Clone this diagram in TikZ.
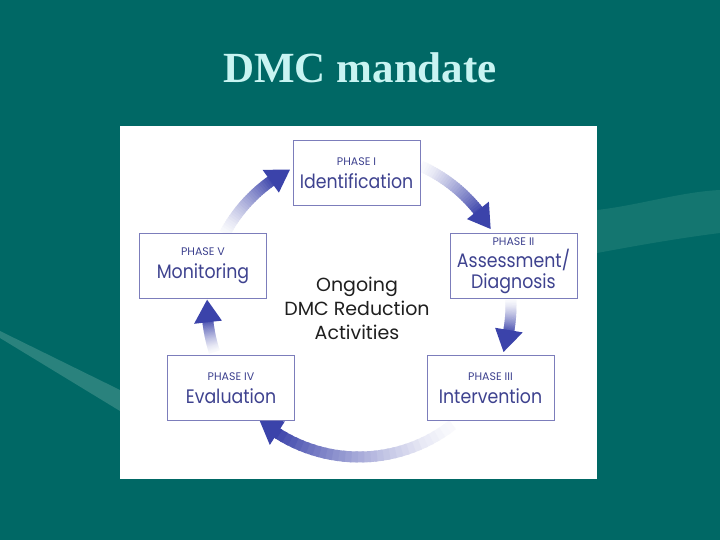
\documentclass[tikz,border=0pt]{standalone}
\usepackage{fontspec}
\usepackage{xcolor}
\usepackage{tikz}
\usetikzlibrary{arrows.meta,positioning}
\setmainfont{Liberation Serif}
\newfontfamily\geofont{Poppins}
\newfontfamily\narrowgeo[FakeStretch=0.89]{Poppins}
\newcommand{\phasetag}[1]{{\geofont\fontsize{11}{12}\selectfont #1}}
\definecolor{slidebg}{HTML}{006865}
\definecolor{wavelight}{HTML}{2A827D}
\definecolor{waveband}{HTML}{147670}
\definecolor{titlecyan}{HTML}{C8F4F2}
\definecolor{phaseink}{HTML}{3E428F}
\definecolor{phaseline}{HTML}{7C7DBB}
\definecolor{cycleblue}{HTML}{3B43AA}

\begin{document}
\begin{tikzpicture}[x=1pt,y=1pt,
    phasebox/.style={draw=phaseline,line width=1pt,fill=white,minimum width=127pt,minimum height=65pt,inner sep=0pt,align=center,text=phaseink,font=\narrowgeo\fontsize{19.5}{21}\selectfont}]
        \useasboundingbox (0,0) rectangle (720,-540);
        \fill[slidebg] (0,0) rectangle (720,-540);
        \fill[waveband] (597,-210) .. controls (640,-205) and (680,-192) .. (720,-190) -- (720,-233) .. controls (680,-238) and (640,-245) .. (597,-253) -- cycle;
        \fill[wavelight] (0,-331) -- (120,-390) -- (120,-411) -- (0,-338) -- cycle;
        \node[font=\bfseries\fontsize{43}{48}\selectfont,text=titlecyan,anchor=base] (title) at (360,-83) {DMC mandate};
        \fill[white] (120,-126) rectangle (597,-479);
        \coordinate (hub) at (359,-305);
        \foreach \from/\to in {152/117,66/30,2/-18,-52/-131,198/178}{
          \pgfmathsetmacro{\shaftend}{\to+7}
          \foreach \k in {0,...,29}{
            \pgfmathsetmacro{\aa}{\from+(\shaftend-\from)*\k/30}
            \pgfmathsetmacro{\ab}{\from+(\shaftend-\from)*(\k+1.4)/30}
            \pgfmathtruncatemacro{\tint}{3+97*(\k/29)^1.3}
            \draw[cycleblue!\tint!white,line width=11pt] ([shift={(\aa:152pt)}]hub) arc[start angle=\aa,end angle=\ab,radius=152pt];
          }
          \fill[cycleblue] ([shift={(\to:152pt)}]hub) -- ([shift={(\to+8.5:138pt)}]hub) -- ([shift={(\to+8.5:166pt)}]hub) -- cycle;
        }
        \node[phasebox] (ident) at (356.5,-173.5) {\phasetag{PHASE I}\\[2pt]Identification};
        \node[phasebox] (assess) at (513.5,-265.5) {\phasetag{PHASE II}\\[1pt]Assessment/\\Diagnosis};
        \node[phasebox] (interv) at (490.5,-388) {\phasetag{PHASE III}\\[2pt]Intervention};
        \node[phasebox] (evalu) at (231,-388) {\phasetag{PHASE IV}\\[2pt]Evaluation};
        \node[phasebox] (monit) at (203,-266) {\phasetag{PHASE V}\\[2pt]Monitoring};
        \node[align=center,text=black!88,font=\geofont\fontsize{19}{24}\selectfont] (ongoing) at (357,-308) {Ongoing\\DMC Reduction\\Activities};
      \end{tikzpicture}
\end{document}
